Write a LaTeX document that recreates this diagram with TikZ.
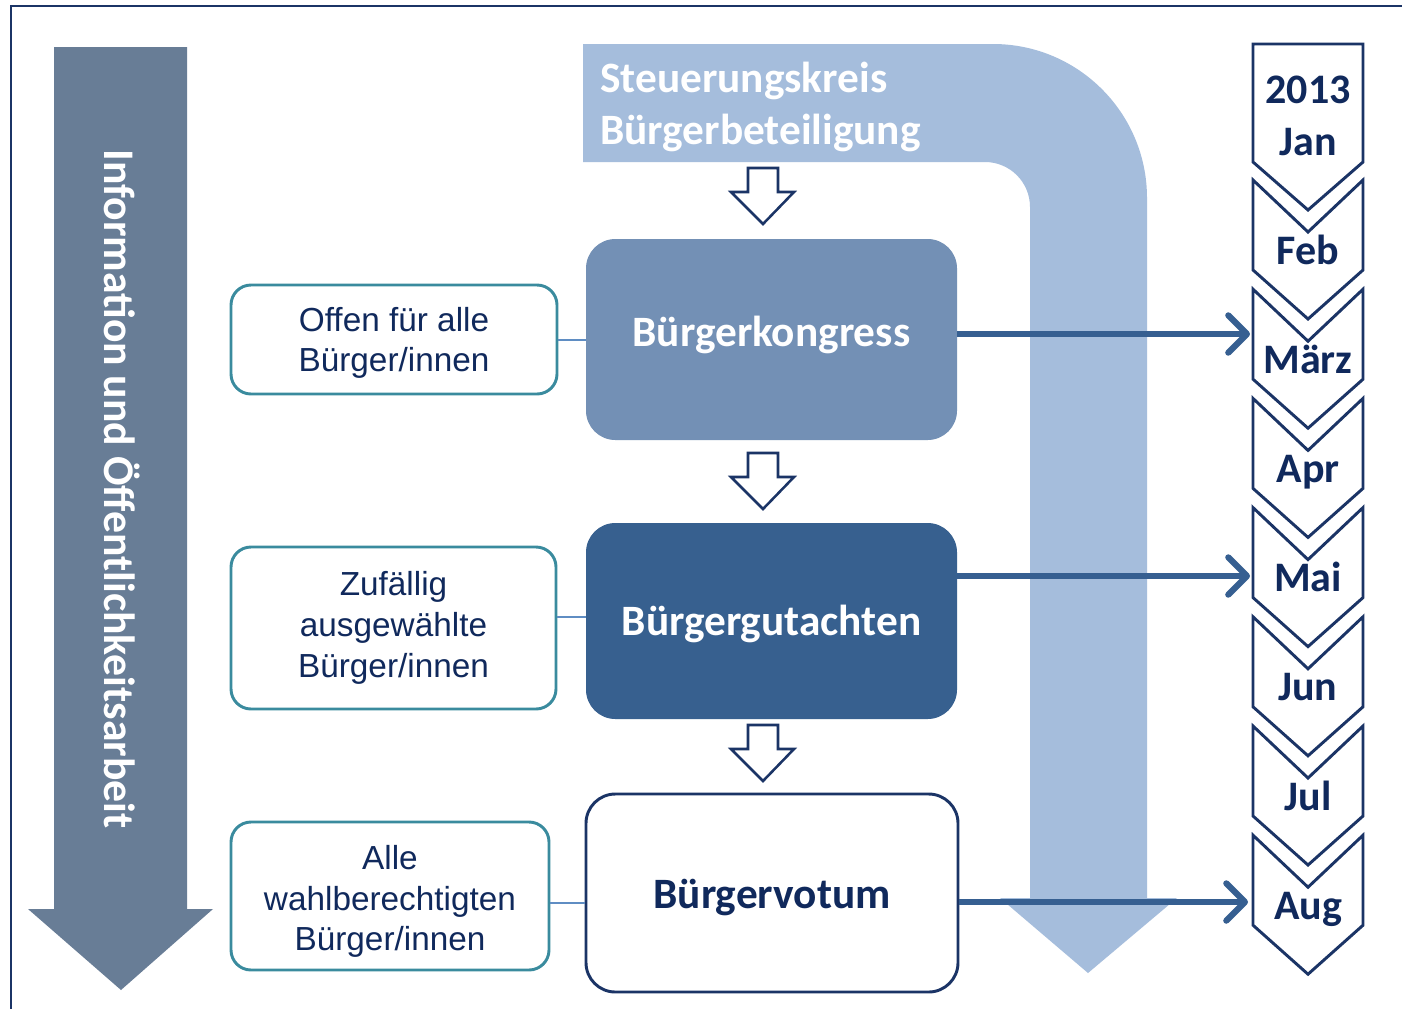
\documentclass[tikz,border=0pt]{standalone}
\usepackage{fontspec}
\setmainfont{Carlito}
\newfontfamily\arialf{Liberation Sans}
\usetikzlibrary{arrows.meta}
\definecolor{navy}{HTML}{1B3466}
\definecolor{txtnavy}{HTML}{10295C}
\definecolor{slatec}{HTML}{687D96}
\definecolor{bandc}{HTML}{A5BDDC}
\definecolor{kongc}{HTML}{7390B5}
\definecolor{gutc}{HTML}{37608F}
\definecolor{tealc}{HTML}{3A8B9E}
\definecolor{arrowc}{HTML}{365F91}
\definecolor{connc}{HTML}{5F8DC3}
\newcommand\shiftup[2]{\raisebox{#1}[\height][\depth]{#2}}
\begin{document}
\begin{tikzpicture}[x=0.75pt,y=-0.75pt,
  bigtxt/.style={font=\bfseries\fontsize{32.5}{39}\selectfont},
  mainbox/.style={bigtxt,rounded corners=22pt,inner sep=0pt,minimum width=278.25pt},
  sidebox/.style={draw=tealc,line width=2.2pt,rounded corners=15pt,fill=white,
    font=\arialf\fontsize{25}{30.5}\selectfont,text=txtnavy,align=center,inner sep=0pt},
  conn/.style={draw=connc,line width=2pt},
  harrow/.style={draw=arrowc,line width=4.6pt,-{Straight Barb[round,length=14pt,width=28pt]}},
  downarrow/.style={draw=navy,line width=1.9pt,fill=white,line join=miter},
  chev/.style={draw=navy,line width=2.2pt,fill=white,line join=miter},
  month/.style={font=\bfseries\fontsize{31.5}{36}\selectfont,text=txtnavy,inner sep=0pt,anchor=base}]
\useasboundingbox (0,0) rectangle (1402,1008);
\fill[white] (0,0) rectangle (1402,1008);
% frame
\draw[navy,line width=2.2pt] (1412,6) -- (11,6) -- (11,1016);
% left arrow
\fill[slatec] (54,47) -- (187,47) -- (187,909) -- (213,909) -- (121,990) -- (28,909) -- (54,909) -- cycle;
\node[font=\bfseries\fontsize{32.8}{39}\selectfont,text=white,rotate=-90,inner sep=0pt] (info) at (122,489) {Information und Öffentlichkeitsarbeit};
% band
\fill[bandc] (583,44) -- (993,44) arc[start angle=-90,end angle=0,radius=154] -- (1147,898) -- (1177,898) -- (1088,973) -- (1000,898) -- (1030,898) -- (1030,207) arc[start angle=0,end angle=-90,radius=45] -- (583,162) -- cycle;
\node[bigtxt,text=white,align=left,anchor=base west,inner sep=0pt] (steu) at (600,144) {Steuerungskreis\\Bürgerbeteiligung};
% main boxes
\node[mainbox,fill=kongc,text=white,minimum height=150.75pt] (kong) at (771.5,339.5) {\shiftup{3.75pt}{Bürgerkongress}};
\node[mainbox,fill=gutc,text=white,minimum height=147pt] (gut) at (771.5,621) {\shiftup{-2.25pt}{Bürgergutachten}};
\node[mainbox,fill=white,draw=navy,line width=2.2pt,text=txtnavy,minimum height=148.5pt,minimum width=279pt] (vot) at (772,893) {\shiftup{-3pt}{Bürgervotum}};
% side boxes
\node[sidebox,minimum width=244.5pt,minimum height=81.75pt] (s1) at (394,339.5) {\shiftup{-3pt}{\begin{tabular}{@{}c@{}}Offen für alle\\Bürger/innen\end{tabular}}};
\node[sidebox,minimum width=243.75pt,minimum height=121.5pt] (s2) at (393.5,628) {Zufällig\\ausgewählte\\Bürger/innen};
\node[sidebox,minimum width=238.5pt,minimum height=111pt] (s3) at (390,896) {\shiftup{-4.5pt}{\begin{tabular}{@{}c@{}}Alle\\wahlberechtigten\\Bürger/innen\end{tabular}}};
\draw[conn] (s1.east |- 0,340) -- (kong.west |- 0,340);
\draw[conn] (s2.east |- 0,617) -- (gut.west |- 0,617);
\draw[conn] (s3.east |- 0,903) -- (vot.west |- 0,903);
% small down arrows
\foreach \t in {168,453,725}
  \draw[downarrow] (748,\t) -- (778,\t) -- (778,\t+24) -- (794,\t+24) -- (763,\t+56) -- (731,\t+24) -- (748,\t+24) -- cycle;
% chevrons
\draw[chev] (1253,44) -- (1363,44) -- (1363,162) -- (1308,210) -- (1253,162) -- cycle;
\foreach \i in {1,...,7} {
  \pgfmathsetmacro\tp{180+(\i-1)*109.2}
  \draw[chev] (1253,\tp) -- (1308,\tp+52) -- (1363,\tp) -- (1363,\tp+90) -- (1308,\tp+139) -- (1253,\tp+90) -- cycle;
}
\node[month] (y13) at (1308,103) {2013};
\node[month] (jan) at (1308,155) {Jan};
\node[month] (feb) at (1308,264) {Feb};
\node[month] (mar) at (1308,373.2) {März};
\node[month] (apr) at (1308,482.4) {Apr};
\node[month] (mai) at (1308,591.6) {Mai};
\node[month] (jun) at (1308,700.8) {Jun};
\node[month] (jul) at (1308,810) {Jul};
\node[month] (aug) at (1308,919.2) {Aug};
% horizontal arrows
\coordinate (tmar) at (1250,334);
\coordinate (tmai) at (1250,576);
\coordinate (taug) at (1248,902);
\draw[harrow] (kong.east |- tmar) -- (tmar);
\draw[harrow] (gut.east |- tmai) -- (tmai);
\draw[harrow] (vot.east |- taug) -- (taug);
\end{tikzpicture}
\end{document}
